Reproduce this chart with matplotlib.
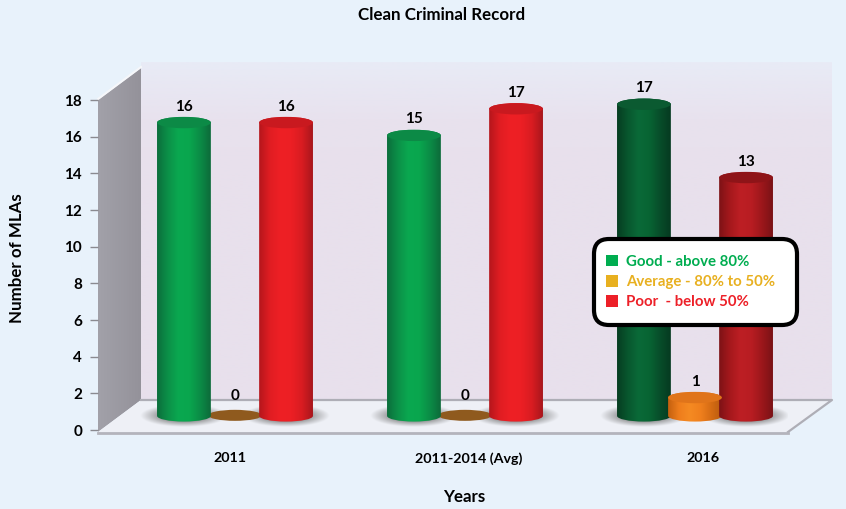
import numpy as np
import matplotlib
matplotlib.use("Agg")
import matplotlib.pyplot as plt
from matplotlib.colors import LinearSegmentedColormap
from matplotlib.patches import Ellipse, FancyBboxPatch, Patch, PathPatch, Polygon
from matplotlib.path import Path

years = ["2011", "2011-2014 (Avg)", "2016"]
good = [16, 15.3, 17]
average = [0, 0, 1]
poor = [16, 16.75, 13]
legend_labels = ["Good - above 80%", "Average - 80% to 50%", "Poor  - below 50%"]
legend_colors = ["#00ad50", "#e8b020", "#ed2028"]

W, H = 846, 509
BG = "#e8f2fb"
DEPTH = 0.77    # bars stand this far up the floor (in y units)
RY = 0.31       # cylinder cap height
STEP = 0.222    # bar spacing in groups
HALF = 0.117    # half a bar
YTOP = 19.5     # axes run past 18 so the tall caps are not clipped
INK = "#000000"

plt.rcParams["font.family"] = ["Lato", "DejaVu Sans"]
plt.rcParams["font.weight"] = "bold"

fig = plt.figure(figsize=(W / 100, H / 100), dpi=100, facecolor=BG)


def gradient(target, extent, colors, horizontal=True, zorder=1):
    cmap = LinearSegmentedColormap.from_list("g", colors)
    grad = np.linspace(0, 1, 256).reshape(1, -1) if horizontal else np.linspace(0, 1, 256).reshape(-1, 1)
    return target.imshow(grad, extent=extent, cmap=cmap, aspect="auto", origin="lower",
                         zorder=zorder, interpolation="bilinear")


# backdrop axes in pixel coordinates, for the 3d walls and floor only
back = fig.add_axes([0, 0, 1, 1])
back.axis("off")

wall = gradient(back, (141, 832, 400, 62), ["#e8e0ec", "#e8e0ec", "#e8e0ec", "#e8e0ec", "#e8e0ec", "#e8e2ee", "#e8ebf6"],
                horizontal=False)
wall.set_clip_path(Polygon([(141, 62), (832, 62), (832, 400), (141, 400)], transform=back.transData))

side = gradient(back, (98, 141, 432, 66), ["#a2a1a9", "#94929a"], zorder=2)
side.set_clip_path(Polygon([(98, 100), (141, 68), (141, 400), (98, 432)], transform=back.transData))
back.plot([98, 141], [99, 67], color="#f6f7fa", lw=1.5, zorder=3)
back.add_patch(Polygon([(98, 432), (141, 400), (832, 400), (788, 432)], fc="#eef0f6", ec="none", zorder=2))
back.plot([141, 832, 788], [400, 400, 432], color="#aeaeb6", lw=1.6, zorder=3)
back.plot([98, 788], [433, 433], color="#b4b4bc", lw=2, zorder=3)
back.set_xlim(0, W)
back.set_ylim(H, 0)

# main axes: bottom edge is y=0 at pixel 430, y=18 lands on pixel 100
ax_height = 330 * YTOP / 18
ax = fig.add_axes([98 / W, 1 - 430 / H, 690 / W, ax_height / H])
ax.patch.set_alpha(0)
for name in ["top", "right", "bottom", "left"]:
    ax.spines[name].set_visible(False)


def shadow(xc):
    xs = np.linspace(-1, 1, 120)
    ys = np.linspace(-1, 1, 60)
    xx, yy = np.meshgrid(xs, ys)
    alpha = np.clip(1.8 - np.sqrt(xx ** 2 + yy ** 2) * 1.8, 0, 1) * 0.85
    rgba = np.zeros((60, 120, 4))
    rgba[..., :3] = 0.45
    rgba[..., 3] = alpha
    ax.imshow(rgba, extent=(xc - 0.19, xc + 0.19, DEPTH - 0.6, DEPTH + 0.65), aspect="auto",
              origin="lower", zorder=2, interpolation="bilinear")


def cylinder(xc, value, side_colors, top_color):
    base = DEPTH
    top = DEPTH + value
    k = 0.5523
    x0, x1 = xc - HALF, xc + HALF
    verts = [(x0, top), (x0, base),
             (x0, base - RY * k), (xc - HALF * k, base - RY), (xc, base - RY),
             (xc + HALF * k, base - RY), (x1, base - RY * k), (x1, base),
             (x1, top),
             (x1, top + RY * k), (xc + HALF * k, top + RY), (xc, top + RY),
             (xc - HALF * k, top + RY), (x0, top + RY * k), (x0, top),
             (x0, top)]
    codes = [Path.MOVETO, Path.LINETO] + [Path.CURVE4] * 6 + [Path.LINETO] + [Path.CURVE4] * 6 + [Path.CLOSEPOLY]
    outline = PathPatch(Path(verts, codes), fc="none", ec="none", transform=ax.transData)
    ax.add_patch(outline)
    im = gradient(ax, (x0, x1, base - RY, top + RY), side_colors, zorder=3)
    im.set_clip_path(outline)
    ax.add_patch(Ellipse((xc, top), 2 * HALF, 2 * RY, fc=top_color, ec="none", zorder=4))
    ax.text(xc, top + 0.87, str(round(value)), ha="center", va="center", fontsize=11, color=INK, zorder=6)


green = ["#0b6e3c", "#0c9048", "#0aa850", "#09a64e", "#0b8c46", "#0d6a3a"]
red = ["#b5161c", "#e01d22", "#ee2025", "#ec1f24", "#d81c21", "#a8161c"]
dark_green = ["#063d21", "#08572e", "#0a6a38", "#086433", "#074d2a", "#053a20"]
dark_red = ["#7d1216", "#a5181c", "#bd1f24", "#b81d22", "#9c171b", "#7a1216"]
orange = ["#c4600f", "#ee7d1c", "#f58a22", "#f0801d", "#d66c14", "#b85a0f"]

for i, year in enumerate(years):
    pos = [i - STEP, i, i + STEP]
    for xc in [pos[0], pos[2]]:
        shadow(xc)
    latest = year == "2016"
    cylinder(pos[0], good[i], dark_green if latest else green, "#0b5a31" if latest else "#0c8a46")
    if average[i] == 0:
        ax.add_patch(Ellipse((pos[1], DEPTH + 0.03), 2 * HALF, 0.6, fc="#8f5a1e", ec="none", zorder=2.5))
        ax.text(pos[1], DEPTH + 1.09, "0", ha="center", va="center", fontsize=11, color=INK, zorder=6)
    else:
        cylinder(pos[1], average[i], orange, "#e0741a")
    cylinder(pos[2], poor[i], dark_red if latest else red, "#8e1418" if latest else "#c9191f")

ax.set_xlim(-137 / 230, 553 / 230)
ax.set_ylim(0, YTOP)
ax.set_yticks(range(0, 19, 2))
ax.tick_params(axis="y", length=6, width=1, color="#8a8a90", labelsize=11, pad=5.5, labelcolor=INK)
ax.set_xticks([])

# the year labels sit a bit right of their groups in the original
for i, (year, shift) in enumerate(zip(years, [-3.5, 3, 6])):
    ax.annotate(year, xy=(i, 0), xytext=(shift, -20.5), textcoords="offset points", ha="center", va="center",
                fontsize=10.3, color=INK, annotation_clip=False)

fig.text(442 / W, 1 - 15 / H, "Clean Criminal Record", ha="center", va="center", fontsize=12.2, color=INK)
fig.text(17 / W, 1 - 258 / H, "Number of MLAs", rotation=90, ha="center", va="center", fontsize=12.2, color=INK)
fig.text(464 / W, 1 - 497 / H, "Years", ha="center", va="center", fontsize=12.2, color=INK)

# legend goes on its own pixel axes above the bars
front = fig.add_axes([0, 0, 1, 1], zorder=5)
front.axis("off")
front.set_xlim(0, W)
front.set_ylim(H, 0)
front.add_patch(FancyBboxPatch((594, 239), 203, 86, boxstyle="round,pad=0,rounding_size=15",
                               fc="white", ec="black", lw=3))
handles = [Patch(fc=c, ec="none") for c in legend_colors]
leg = front.legend(handles, legend_labels, loc="center left", bbox_to_anchor=(606, 282), bbox_transform=front.transData,
                   prop={"size": 10.8, "weight": "bold"}, labelcolor=legend_colors,
                   handlelength=0.8, handleheight=0.8, handletextpad=0.55, labelspacing=0.42,
                   borderpad=0, borderaxespad=0, frameon=False)

fig.savefig("out.png", dpi=100, facecolor=BG)
